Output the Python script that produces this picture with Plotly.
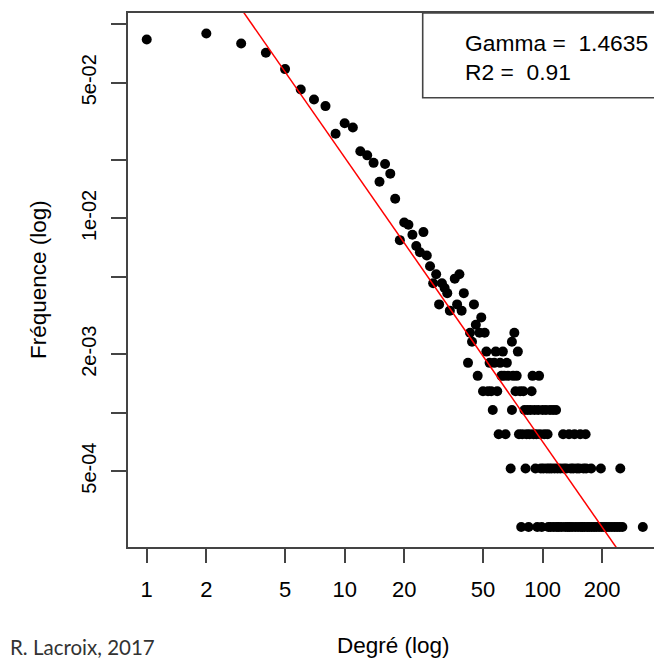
import numpy as np
import plotly.graph_objects as go

# ---------------- data ----------------
N_NODES = 3880            # total number of nodes (frequency = count / N)
GAMMA = 1.4635            # fitted exponent
FIT_COEF = 0.5994         # fitted coefficient  f = C * k^-gamma
R2 = 0.91

# degrees with large counts
head_degree = [1, 2, 3, 4, 5, 6, 7, 8, 9, 10, 11, 12, 13, 14, 15, 16, 17, 18, 19, 20,
               21, 22, 23, 24, 25, 26, 27, 28, 29, 30, 31, 32, 33, 34, 36, 37, 38, 39, 40,
               45, 46, 49]
head_count = [324, 348, 309, 277, 228, 179, 159, 147, 106, 120, 114, 86, 82, 75, 60, 74, 66, 49, 30, 37,
              36, 32, 28, 26, 33, 25, 22, 18, 20, 14, 18, 17, 16, 13, 19, 14, 20, 13, 16,
              14, 11, 12]

# degrees observed with small counts (count = 1 .. 10)
deg_count10 = [43, 48, 51, 72]
deg_count9 = [44, 70]
deg_count8 = [52, 58, 63, 75]
deg_count7 = [42, 54, 57, 61, 66]
deg_count6 = [47, 62, 64, 67, 71, 74, 89, 96]
deg_count5 = [50, 53, 55, 59, 73, 77, 80, 88]
deg_count4 = [56, 70, 81, 84, 87, 91, 95, 100, 104, 109, 113, 117]
deg_count3 = [60, 65, 76, 79, 83, 86, 90, 93, 97, 102, 106, 127, 136, 145, 155, 165]
deg_count2 = [69, 82, 92, 98, 101, 105, 108, 111, 115, 119, 123, 128, 132, 139, 143, 149,
              153, 161, 166, 176, 197, 247]
deg_count1 = [78, 85, 94, 99, 107, 110, 114, 118, 121, 125, 130, 134, 137, 141, 146, 151,
              156, 159, 163, 168, 172, 177, 182, 187, 193, 199, 205, 211, 217, 224, 231,
              238, 245, 253, 321]

x_ticks = [1, 2, 5, 10, 20, 50, 100, 200]
x_tick_text = ["1", "2", "5", "10", "20", "50", "100", "200"]
y_ticks = [1e-1, 5e-2, 2e-2, 1e-2, 5e-3, 2e-3, 1e-3, 5e-4]
y_tick_text = ["", "5e-02", "", "1e-02", "", "2e-03", "", "5e-04"]

# ---------------- build ----------------
small_rows = [(10, deg_count10), (9, deg_count9), (8, deg_count8), (7, deg_count7),
              (6, deg_count6), (5, deg_count5), (4, deg_count4), (3, deg_count3),
              (2, deg_count2), (1, deg_count1)]
degree = list(head_degree)
count = list(head_count)
for c, ks in small_rows:
    degree += ks
    count += [c] * len(ks)
degree = np.array(degree, dtype=float)
freq = np.array(count, dtype=float) / N_NODES

X_RANGE = [-0.0947, 2.563]
Y_RANGE = [-3.692, -0.942]

FONT = "Liberation Sans, Arial, sans-serif"
AX = "#444444"

fig = go.Figure()
fig.add_trace(go.Scatter(x=degree, y=freq, mode="markers",
                         marker=dict(size=10, color="black"),
                         showlegend=False, hoverinfo="x+y"))
x_line = np.array([10 ** X_RANGE[0], 10 ** X_RANGE[1]])
fig.add_trace(go.Scatter(x=x_line, y=FIT_COEF * x_line ** (-GAMMA), mode="lines",
                         line=dict(color="red", width=1.5), showlegend=False,
                         hoverinfo="skip"))

W, H = 654, 664
L, R, T, B = 128, 0, 13, 117
pw, ph = W - L - R, H - T - B


def px(xp):
    return (xp - L) / pw


def py(yp):
    return (H - B - yp) / ph


fig.update_layout(
    width=W, height=H,
    margin=dict(l=L, r=R, t=T, b=B, pad=0),
    paper_bgcolor="white", plot_bgcolor="white",
    font=dict(family=FONT, color="black"),
    xaxis=dict(type="log", range=X_RANGE, tickvals=x_ticks, ticktext=x_tick_text,
               ticks="outside", ticklen=14, tickwidth=1.5, tickcolor=AX,
               ticklabelstandoff=8,
               showline=True, linecolor=AX, linewidth=1.6, mirror=True,
               showgrid=False, zeroline=False, tickfont=dict(size=22, family=FONT, color="black")),
    yaxis=dict(type="log", range=Y_RANGE, tickvals=y_ticks, ticktext=y_tick_text,
               tickangle=-90, ticks="outside", ticklen=15, tickwidth=1.5, tickcolor=AX,
               ticklabelstandoff=7,
               showline=True, linecolor=AX, linewidth=1.6, mirror=False,
               showgrid=False, zeroline=False, tickfont=dict(size=20, family=FONT, color="black")),
    shapes=[dict(type="rect", xref="paper", yref="paper",
                 x0=px(422.7), x1=1.05, y0=py(97.7), y1=1.0,
                 line=dict(color=AX, width=1.6), fillcolor="rgba(0,0,0,0)")],
    annotations=[
        dict(text="Gamma =\u00a0 " + f"{GAMMA:.4f}", xref="paper", yref="paper",
             x=px(463), y=py(43.5), xanchor="left", yanchor="middle", showarrow=False,
             font=dict(size=22.8, family=FONT, color="black")),
        dict(text="R2 =\u00a0 " + f"{R2:.2f}", xref="paper", yref="paper",
             x=px(463), y=py(71.5), xanchor="left", yanchor="middle", showarrow=False,
             font=dict(size=22.8, family=FONT, color="black")),
        dict(text="Degré (log)", xref="paper", yref="paper",
             x=px(393), y=py(645), xanchor="center", yanchor="middle", showarrow=False,
             font=dict(size=22.5, family=FONT, color="black")),
        dict(text="Fréquence (log)", xref="paper", yref="paper", textangle=-90,
             x=px(38), y=py(280), xanchor="center", yanchor="middle", showarrow=False,
             font=dict(size=22.5, family=FONT, color="black")),
        dict(text="R. Lacroix, 2017", xref="paper", yref="paper",
             x=px(8), y=py(647), xanchor="left", yanchor="middle", showarrow=False,
             font=dict(size=20.5, family="Lato, Open Sans, sans-serif", color="#333333")),
    ],
)

fig.write_html("out.html")
